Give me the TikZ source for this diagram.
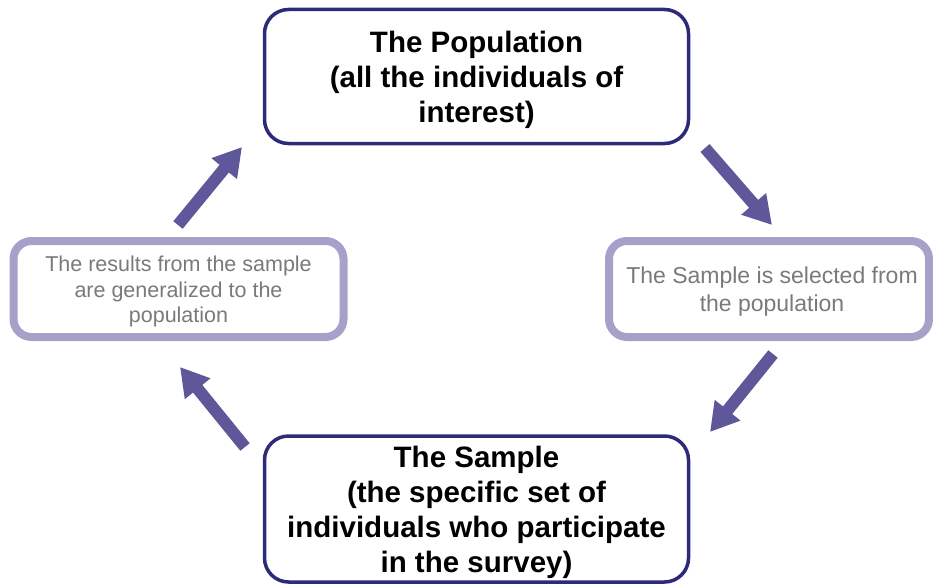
\documentclass[tikz,border=0pt]{standalone}
\usepackage{fontspec}
\setmainfont{Liberation Sans}
\usetikzlibrary{arrows.meta}
\definecolor{navy}{HTML}{2E2A7A}
\definecolor{lav}{HTML}{A5A1C9}
\definecolor{arr}{HTML}{5E5799}
\definecolor{txtgray}{HTML}{7A7A7A}
\tikzset{
  mainbox/.style={draw=navy, line width=3.5pt, rounded corners=24pt, fill=white, align=center, font=\fontsize{29.5}{35}\selectfont\bfseries, inner sep=0pt},
  sidebox/.style={draw=lav, line width=8pt, rounded corners=18pt, fill=white, align=center, text=txtgray, inner sep=0pt},
  flow/.style={draw=arr, line width=12pt, -{Triangle[width=31pt,length=28pt]}, shorten >=0pt}
}
\begin{document}
\begin{tikzpicture}[x=1pt,y=-1pt]
\useasboundingbox (0,0) rectangle (933,586);
\node[mainbox, minimum width=424pt, minimum height=134pt] (pop) at (476.5,76.5) {};
\node[align=center, font=\fontsize{29.5}{35}\selectfont\bfseries] (poptxt) at (476.5,80)
  {The Population\\(all the individuals of\\interest)};
\node[mainbox, minimum width=424pt, minimum height=146pt] (samp) at (476.5,509) {};
\node[align=center, font=\fontsize{29.5}{35}\selectfont\bfseries] (samptxt) at (476.5,512.5)
  {The Sample\\(the specific set of\\individuals who participate\\in the survey)};
\node[sidebox, minimum width=330pt, minimum height=96pt] (gen) at (178.5,289) {};
\node[align=center, text=txtgray, font=\fontsize{21.5}{25.5}\selectfont] (gentxt) at (178.5,291.5)
  {The results from the sample\\are generalized to the\\population};
\node[sidebox, minimum width=320pt, minimum height=96pt] (sel) at (769,289) {};
\node[align=center, text=txtgray, font=\fontsize{23}{28}\selectfont] (seltxt) at (772,291.5)
  {The Sample is selected from\\the population};
\coordinate (a1s) at (178,225); \coordinate (a1e) at (242,147);
\coordinate (a2s) at (705,148); \coordinate (a2e) at (772,225);
\coordinate (a3s) at (773,354); \coordinate (a3e) at (710,432);
\coordinate (a4s) at (245,447); \coordinate (a4e) at (180,367);
\draw[flow] (a1s) -- (a1e);
\draw[flow] (a2s) -- (a2e);
\draw[flow] (a3s) -- (a3e);
\draw[flow] (a4s) -- (a4e);
\end{tikzpicture}
\end{document}
